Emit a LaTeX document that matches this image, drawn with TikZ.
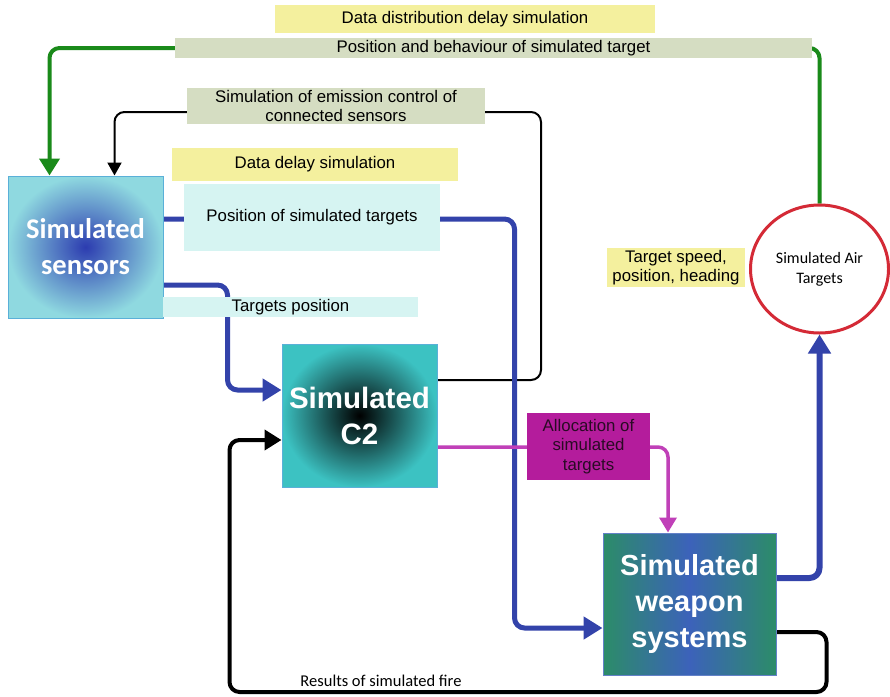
\documentclass[tikz,border=0pt]{standalone}
\usepackage{fontspec}
\setmainfont{Liberation Sans}
\newfontfamily\carlito{Carlito}
\usetikzlibrary{arrows.meta,shapes.geometric,calc}
\definecolor{lblyellow}{HTML}{F4F09E}
\definecolor{lblsage}{HTML}{D5DDC2}
\definecolor{lblcyan}{HTML}{D6F4F2}
\definecolor{lblmag}{HTML}{B41C9C}
\definecolor{magtext}{HTML}{2A0A25}
\definecolor{arrgreen}{HTML}{1A8A1A}
\definecolor{arrblue}{HTML}{3343AA}
\definecolor{arrmag}{HTML}{C040B8}
\definecolor{airred}{HTML}{D42A36}
\definecolor{senout}{HTML}{8FD9E0}
\definecolor{senin}{HTML}{2C3CB0}
\definecolor{c2out}{HTML}{3CC2C2}
\definecolor{wpout}{HTML}{2C8C68}
\definecolor{wpin}{HTML}{3C62BA}
\definecolor{boxedge}{HTML}{5AB0D8}
\pgfdeclarelayer{paper}
\pgfdeclarelayer{lines}
\pgfsetlayers{paper,lines,main}
\tikzset{
  lbl/.style={inner sep=0pt, align=center, font=\fontsize{16.8}{19.5}\selectfont},
  ylbl/.style={lbl, fill=lblyellow},
  slbl/.style={lbl, fill=lblsage},
  clbl/.style={lbl, fill=lblcyan},
  mlbl/.style={lbl, fill=lblmag, text=magtext},
  sysbox/.style={inner sep=0pt, align=center, text=white, draw=boxedge, line width=1pt},
  conn/.style={rounded corners=10pt, line join=round},
  garrow/.style={conn, draw=arrgreen, line width=4pt, -{Triangle[width=20pt,length=17pt]}, arrgreen},
  karrow/.style={conn, draw=black, line width=2pt, -{Triangle[width=14pt,length=13pt]}},
  barrow/.style={conn, draw=arrblue, line width=5pt, -{Triangle[width=22pt,length=19pt]}, arrblue},
  marrow/.style={conn, draw=arrmag, line width=3.5pt, -{Triangle[width=17pt,length=15pt]}, arrmag},
  farrow/.style={conn, draw=black, line width=4pt, -{Triangle[width=20pt,length=17pt]}},
}
\begin{document}
\begin{tikzpicture}[x=1pt,y=-1pt]
\begin{pgfonlayer}{paper}
\fill[white] (0,0) rectangle (890,696);
\end{pgfonlayer}
\useasboundingbox (0,0) rectangle (890,696);

% system boxes
\node[sysbox, minimum width=155pt, minimum height=142pt, inner color=senin, outer color=senout,
      font=\carlito\bfseries\fontsize{28.5}{36}\selectfont] (sensors) at (85.5,247) {Simulated\\sensors};
\node[sysbox, minimum width=155pt, minimum height=143pt, inner color=black, outer color=c2out,
      font=\bfseries\fontsize{29.5}{36}\selectfont] (c2) at (359.5,415.5) {Simulated\\C2};
\node[sysbox, draw=wpin!80!white, minimum width=173pt, minimum height=142pt, left color=wpout, right color=wpout, middle color=wpin,
      font=\bfseries\fontsize{29}{36}\selectfont] (weapons) at (689.5,604) {Simulated\\weapon\\systems};
\node[ellipse, draw=airred, line width=3pt, fill=white, minimum width=138pt, minimum height=128pt, inner sep=0pt,
      align=center, font=\carlito\fontsize{16}{20}\selectfont] (air) at (819.5,269) {Simulated Air\\Targets};

% labels
\node[ylbl, minimum width=380pt, minimum height=28pt] (lblDDD) at (465,19) {Data distribution delay simulation};
\node[slbl, minimum width=637pt, minimum height=20pt] (lblPB) at (493.5,48) {Position and behaviour of simulated target};
\node[slbl, minimum width=298pt, minimum height=36pt] (lblEmis) at (336,106) {Simulation of emission control of\\connected sensors};
\node[ylbl, minimum width=286pt, minimum height=33pt] (lblDelay) at (315,164.5) {Data delay simulation};
\node[clbl, minimum width=256pt, minimum height=67pt] (lblPosT) at (312,217.5) {Position of simulated targets};
\node[clbl, minimum width=255pt, minimum height=20pt] (lblTP) at (290.5,307) {Targets position};
\node[mlbl, minimum width=123pt, minimum height=67pt] (lblAlloc) at (588.5,446.5) {Allocation of\\simulated\\targets};
\node[ylbl, minimum width=138pt, minimum height=39pt] (lblSpeed) at (676,267.5) {Target speed,\\position, heading};
\node[inner sep=0pt, font=\carlito\fontsize{16.5}{18}\selectfont] (lblFire) at (381,681) {Results of simulated fire};

% helper coordinates
\coordinate (sg) at ($(sensors.north west)+(42,0)$);
\coordinate (se) at ($(sensors.north west)+(107,0)$);
\coordinate (emisTurn) at (541,112);

\begin{pgfonlayer}{lines}
\draw[garrow] (air.north) |- (sg |- lblPB.center) -- (sg);
\draw[karrow] ($(c2.east)+(0,-35.5)$) -| (emisTurn) -| (se);
\draw[farrow] ($(weapons.east)+(0,28)$) -| ($(weapons.east)+(50,88)$) -| ($(c2.west)+(-52,24.5)$) -- ($(c2.west)+(0,24.5)$);
\draw[barrow] ($(sensors.east)+(0,-28)$) -| ($(weapons.west)+(-88,24)$) -- ($(weapons.west)+(0,24)$);
\draw[barrow] ($(sensors.east)+(0,38)$) -| ($(c2.west)+(-54,-25.5)$) -- ($(c2.west)+(0,-25.5)$);
\draw[marrow] ($(c2.east)+(0,31.5)$) -| ($(weapons.north)+(-21.5,0)$);
\draw[barrow, line width=6pt] ($(weapons.east)+(0,-26)$) -| (air.south);
\end{pgfonlayer}
\end{tikzpicture}
\end{document}
